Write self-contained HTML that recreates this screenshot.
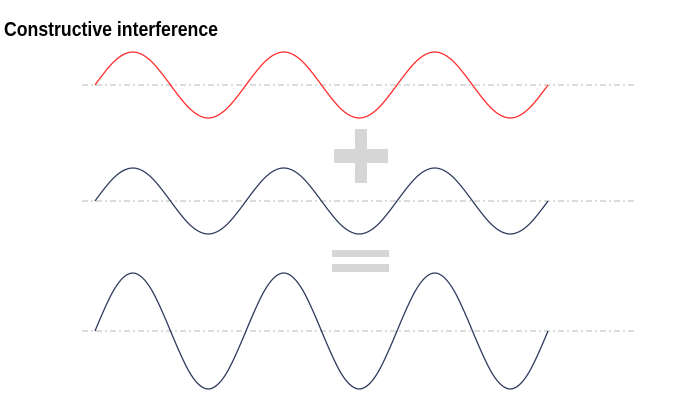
<!DOCTYPE html>
<html><head><style>html,body{margin:0;padding:0;background:#fff;width:674px;height:408px;overflow:hidden}</style></head>
<body>
<svg width="674" height="408" xmlns="http://www.w3.org/2000/svg">
<text x="4" y="36" font-family="Liberation Sans, sans-serif" font-weight="bold" font-size="20" textLength="214" lengthAdjust="spacingAndGlyphs" fill="#000">Constructive interference</text>
<g stroke="#b8b8b8" stroke-width="1" stroke-dasharray="6,3,2,3">
<line x1="82" y1="85" x2="636" y2="85"/>
<line x1="82" y1="201" x2="636" y2="201"/>
<line x1="82" y1="331" x2="636" y2="331"/>
</g>
<g fill="none" stroke-width="1.3">
<path stroke="#ff2a2a" d="M95,85
c12.31,-16.9 24.09,-33 37.75,-33 c13.66,0 25.44,16.1 37.75,33 c12.31,16.9 24.09,33 37.75,33 c13.66,0 25.44,-16.1 37.75,-33
c12.31,-16.9 24.09,-33 37.75,-33 c13.66,0 25.44,16.1 37.75,33 c12.31,16.9 24.09,33 37.75,33 c13.66,0 25.44,-16.1 37.75,-33
c12.31,-16.9 24.09,-33 37.75,-33 c13.66,0 25.44,16.1 37.75,33 c12.31,16.9 24.09,33 37.75,33 c13.66,0 25.44,-16.1 37.75,-33"/>
<path stroke="#2f3b5e" d="M95,201
c12.31,-16.9 24.09,-33 37.75,-33 c13.66,0 25.44,16.1 37.75,33 c12.31,16.9 24.09,33 37.75,33 c13.66,0 25.44,-16.1 37.75,-33
c12.31,-16.9 24.09,-33 37.75,-33 c13.66,0 25.44,16.1 37.75,33 c12.31,16.9 24.09,33 37.75,33 c13.66,0 25.44,-16.1 37.75,-33
c12.31,-16.9 24.09,-33 37.75,-33 c13.66,0 25.44,16.1 37.75,33 c12.31,16.9 24.09,33 37.75,33 c13.66,0 25.44,-16.1 37.75,-33"/>
<path stroke="#2f3b5e" d="M95,331
c12.31,-29.7 24.09,-58 37.75,-58 c13.66,0 25.44,28.3 37.75,58 c12.31,29.7 24.09,58 37.75,58 c13.66,0 25.44,-28.3 37.75,-58
c12.31,-29.7 24.09,-58 37.75,-58 c13.66,0 25.44,28.3 37.75,58 c12.31,29.7 24.09,58 37.75,58 c13.66,0 25.44,-28.3 37.75,-58
c12.31,-29.7 24.09,-58 37.75,-58 c13.66,0 25.44,28.3 37.75,58 c12.31,29.7 24.09,58 37.75,58 c13.66,0 25.44,-28.3 37.75,-58"/>
</g>
<g fill="#d6d6d6">
<rect x="355" y="129" width="12" height="54"/>
<rect x="334" y="149" width="54" height="14"/>
<rect x="332" y="250" width="57" height="7"/>
<rect x="332" y="264" width="57" height="8"/>
</g>
</svg>
</body></html>
